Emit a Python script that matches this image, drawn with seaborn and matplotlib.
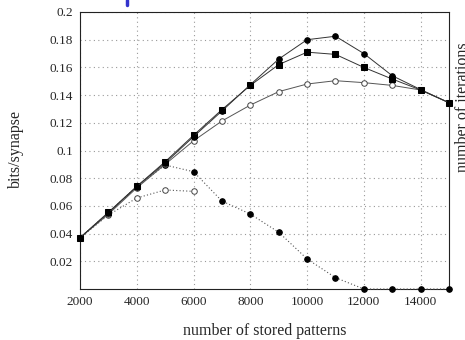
import matplotlib
matplotlib.use("Agg")
import matplotlib.pyplot as plt
import seaborn as sns
import pandas as pd
import numpy as np

patterns = [2000, 3000, 4000, 5000, 6000, 7000, 8000, 9000, 10000, 11000, 12000, 13000, 14000, 15000]
bits_circle = [0.037, 0.055, 0.074, 0.091, 0.110, 0.1285, 0.1475, 0.166, 0.180, 0.1825, 0.170, 0.154, 0.144, 0.1345]
bits_square = [0.037, 0.0554, 0.0741, 0.0919, 0.111, 0.1295, 0.147, 0.162, 0.171, 0.1694, 0.160, 0.1516, 0.1437, 0.1345]
bits_open = [0.037, 0.054, 0.073, 0.090, 0.107, 0.1213, 0.1328, 0.1425, 0.148, 0.1504, 0.149, 0.147, 0.1437, 0.1345]
iter_dotted = [0.037, 0.055, 0.074, 0.0895, 0.0847, 0.0635, 0.0541, 0.041, 0.0217, 0.0082, 0.0, 0.0, 0.0, 0.0]
patterns_short = [2000, 3000, 4000, 5000, 6000]
open_dotted = [0.037, 0.0534, 0.0657, 0.0715, 0.0705]

sns.set_style("white")
plt.rcParams['font.family'] = ['Liberation Serif', 'DejaVu Serif']

fig = plt.figure(figsize=(4.65, 3.4), dpi=100)
ax = fig.add_axes([80 / 465, 1 - 289 / 340, 369 / 465, 277 / 340])

line_col = '#555555'
ms = 4
sns.lineplot(x=patterns, y=iter_dotted, ax=ax, color=line_col, linestyle=(0, (1, 2)), lw=0.8,
             marker='o', ms=ms, mfc='black', mec='black', clip_on=False, zorder=3)
sns.lineplot(x=patterns_short, y=open_dotted, ax=ax, color=line_col, linestyle=(0, (1, 2)), lw=0.8,
             marker='o', ms=ms, mfc='white', mec='#444444', mew=0.7, zorder=3)
sns.lineplot(x=patterns, y=bits_open, ax=ax, color=line_col, lw=0.7,
             marker='o', ms=ms, mfc='white', mec='#444444', mew=0.7, clip_on=False, zorder=4)
sns.lineplot(x=patterns, y=bits_square, ax=ax, color='#333333', lw=0.7,
             marker='s', ms=ms, mfc='black', mec='black', clip_on=False, zorder=5)
sns.lineplot(x=patterns, y=bits_circle, ax=ax, color='#333333', lw=0.7,
             marker='o', ms=ms, mfc='black', mec='black', clip_on=False, zorder=6)

ax.set_xlim(2000, 15000)
ax.set_ylim(0, 0.2)
ax.set_xticks([2000, 4000, 6000, 8000, 10000, 12000, 14000])
ax.set_yticks([0.02, 0.04, 0.06, 0.08, 0.1, 0.12, 0.14, 0.16, 0.18, 0.2])
ax.set_yticklabels(['0.02', '0.04', '0.06', '0.08', '0.1', '0.12', '0.14', '0.16', '0.18', '0.2'])
ax.tick_params(labelsize=9.5, length=0, pad=5)
ax.grid(True, color='#999999', linestyle=(0, (1, 3)), lw=0.8)
for s in ax.spines.values():
    s.set_color('#222222')
    s.set_linewidth(0.8)

fig.text(16 / 465, 1 - 149 / 340, 'bits/synapse', rotation=90, ha='center', va='center', fontsize=11.5)
fig.text(265 / 465, 1 - 331 / 340, 'number of stored patterns', ha='center', va='center', fontsize=11.5)
fig.text(463 / 465, 1 - 107 / 340, 'number of iterations', rotation=90, ha='center', va='center', fontsize=11.5)
fig.add_artist(plt.Line2D([127 / 465, 127 / 465], [1, 1 - 5 / 340], color='#3333cc', lw=2.5))

fig.savefig('out.png', dpi=100)
